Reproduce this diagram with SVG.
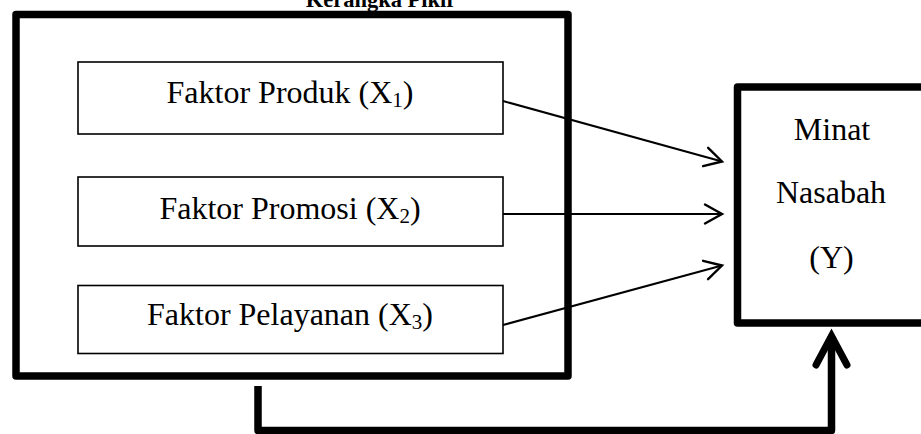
<svg xmlns="http://www.w3.org/2000/svg" width="921" height="434" viewBox="0 0 921 434">
  <style>
    .t { font-family: "Liberation Serif", "Times New Roman", serif; fill: #000; }
    .lbl { font-size: 32px; text-anchor: middle; }
    .title { font-size: 22.5px; font-weight: bold; text-anchor: middle; }
    .thick { fill: none; stroke: #000; stroke-width: 7.5; stroke-linejoin: round; }
    .inner { fill: #fff; stroke: #000; stroke-width: 1.6; }
    .conn { fill: none; stroke: #000; stroke-width: 2; }
  </style>
  <defs>
    <marker id="open" markerUnits="userSpaceOnUse" markerWidth="40" markerHeight="40" refX="0" refY="0" viewBox="-20 -20 40 40" orient="auto" overflow="visible">
      <path d="M -17,-9.5 L 0,0 L -17,9.5" fill="none" stroke="#000" stroke-width="2.4" stroke-linecap="round" stroke-linejoin="miter"/>
    </marker>
    <marker id="thickhead" markerUnits="userSpaceOnUse" markerWidth="80" markerHeight="80" refX="0" refY="0" viewBox="-40 -40 80 80" orient="auto" overflow="visible">
      <path d="M -29,-15.5 L 0,0 L -29,15.5" fill="none" stroke="#000" stroke-width="7" stroke-linecap="round" stroke-linejoin="miter"/>
    </marker>
  </defs>

  <text class="t title" x="381" y="7">Kerangka Pikir</text>

  <g id="frame">
    <rect class="thick" x="16" y="14.5" width="552" height="361.5"/>
  </g>

  <g id="connectors">
    <line class="conn" x1="503" y1="101" x2="722" y2="161.5" marker-end="url(#open)"/>
    <line class="conn" x1="503" y1="214" x2="722" y2="214" marker-end="url(#open)"/>
    <line class="conn" x1="503" y1="325" x2="722" y2="265.5" marker-end="url(#open)"/>
    <path class="thick" d="M258,386 V430.5 H831.5 V336" stroke-linejoin="miter" marker-end="url(#thickhead)"/>
  </g>

  <g id="produk">
    <rect class="inner" x="78" y="62" width="425" height="72"/>
    <text class="t lbl" x="290" y="103">Faktor Produk (X<tspan font-size="21" dy="4">1</tspan><tspan dy="-4">)</tspan></text>
  </g>

  <g id="promosi">
    <rect class="inner" x="78" y="177" width="425" height="69"/>
    <text class="t lbl" x="290" y="219">Faktor Promosi (X<tspan font-size="21" dy="4">2</tspan><tspan dy="-4">)</tspan></text>
  </g>

  <g id="pelayanan">
    <rect class="inner" x="78" y="285.5" width="425" height="68"/>
    <text class="t lbl" x="290" y="325">Faktor Pelayanan (X<tspan font-size="21" dy="4">3</tspan><tspan dy="-4">)</tspan></text>
  </g>

  <g id="minat">
    <rect class="thick" x="737.5" y="87" width="200" height="236" stroke-width="8"/>
    <text class="t lbl" x="832" y="140">Minat</text>
    <text class="t lbl" x="831" y="203">Nasabah</text>
    <text class="t lbl" x="831.5" y="268">(Y)</text>
  </g>
</svg>
